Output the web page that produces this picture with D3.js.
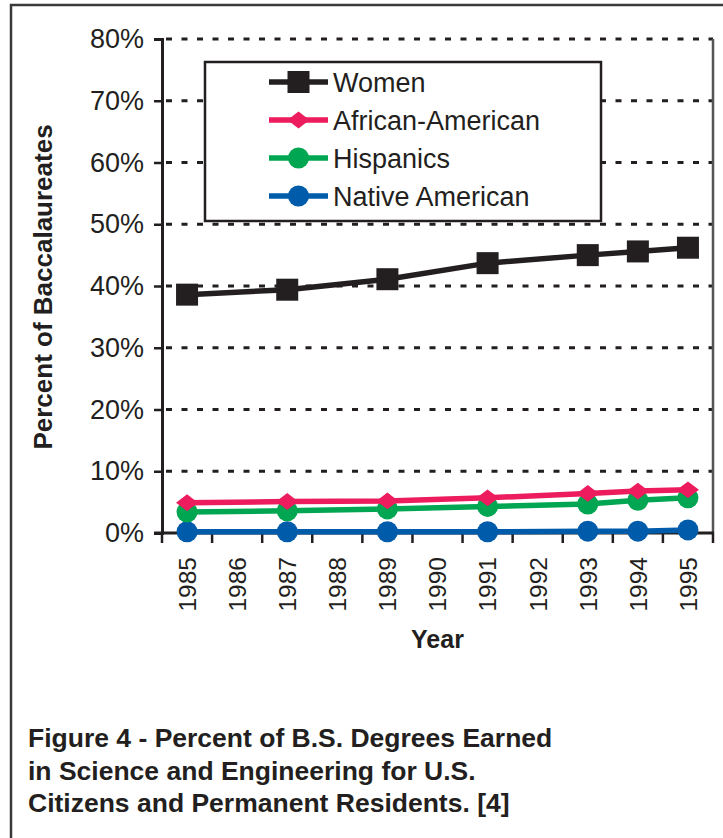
<!DOCTYPE html>
<html>
<head>
<meta charset="utf-8">
<script src="https://cdn.jsdelivr.net/npm/d3@7"></script>
<style>
  html, body { margin: 0; padding: 0; background: #fff; }
  svg { display: block; font-family: "Liberation Sans", Arial, sans-serif; }
</style>
</head>
<body>
<div id="chart"></div>
<script>
// axis categories (every year gets a tick)
var axisYears = ["1985", "1986", "1987", "1988", "1989", "1990", "1991", "1992", "1993", "1994", "1995"];
// years that actually have data
var dataYears = ["1985", "1987", "1989", "1991", "1993", "1994", "1995"];

var women = [38.6, 39.4, 41.1, 43.7, 45.0, 45.6, 46.2];
var africanAmerican = [4.9, 5.1, 5.2, 5.7, 6.4, 6.8, 7.0];
var hispanics = [3.4, 3.6, 3.9, 4.3, 4.7, 5.3, 5.7];
var nativeAmerican = [0.2, 0.2, 0.2, 0.2, 0.3, 0.3, 0.5];

var seriesNames = ["Women", "African-American", "Hispanics", "Native American"];
var seriesColors = ["#231f20", "#ec1c5e", "#00a651", "#005baa"];
var seriesShapes = ["square", "diamond", "circle", "circle"];

var yTicks = [0, 10, 20, 30, 40, 50, 60, 70, 80];

var captionLines = [
	"Figure 4 - Percent of B.S. Degrees Earned",
	"in Science and Engineering for U.S.",
	"Citizens and Permanent Residents. [4]"
];

var width = 723, height = 838;
var plot = { left: 162, right: 713, top: 39, bottom: 533 };

var svg = d3.select("#chart").append("svg")
		.attr("width", width).attr("height", height);

// outer frame (runs off the right and bottom edge)
svg.append("rect").attr("x", 11).attr("y", 5)
		.attr("width", 800).attr("height", 900)
		.attr("fill", "#fff").attr("stroke", "#3a3a3a").attr("stroke-width", 2.5);

var x = d3.scaleBand().domain(axisYears).range([plot.left, plot.right]);
var y = d3.scaleLinear().domain([0, 80]).range([plot.bottom, plot.top]);

// dotted gridlines (80% one doubles as the top border)
svg.append("g").selectAll("line").data(yTicks.filter(function(d) { return d > 0; }))
		.enter().append("line")
		.attr("x1", plot.left + 4).attr("x2", plot.right)
		.attr("y1", function(d) { return y(d); })
		.attr("y2", function(d) { return y(d); })
		.attr("stroke", "#231f20").attr("stroke-width", 3.2)
		.attr("stroke-dasharray", "6,9.5");

// right border
svg.append("line").attr("x1", plot.right).attr("x2", plot.right)
		.attr("y1", plot.top).attr("y2", plot.bottom)
		.attr("stroke", "#555").attr("stroke-width", 2.5);

// y axis
var yAxis = d3.axisLeft(y).tickValues(yTicks).tickSize(8).tickPadding(10)
		.tickFormat(function(d) { return d + "%"; });
var gy = svg.append("g").attr("transform", "translate(" + plot.left + ",0)").call(yAxis);
gy.select(".domain").attr("stroke", "#231f20").attr("stroke-width", 3);
gy.selectAll(".tick line").attr("stroke", "#231f20").attr("stroke-width", 2.5);
gy.selectAll(".tick text").attr("font-size", 27).attr("fill", "#231f20")
		.attr("font-family", "Liberation Sans, Arial, sans-serif");

// x axis: ticks sit between categories
var xAxisLine = svg.append("g");
xAxisLine.append("line").attr("x1", plot.left - 8).attr("x2", plot.right + 1)
		.attr("y1", plot.bottom).attr("y2", plot.bottom)
		.attr("stroke", "#231f20").attr("stroke-width", 3);
xAxisLine.selectAll(".xt").data(axisYears).enter().append("line")
		.attr("class", "xt")
		.attr("x1", function(d) { return x(d); })
		.attr("x2", function(d) { return x(d); })
		.attr("y1", plot.bottom).attr("y2", plot.bottom + 10)
		.attr("stroke", "#231f20").attr("stroke-width", 2.5);
xAxisLine.append("line").attr("x1", plot.right).attr("x2", plot.right)
		.attr("y1", plot.bottom).attr("y2", plot.bottom + 10)
		.attr("stroke", "#231f20").attr("stroke-width", 2.5);

xAxisLine.selectAll(".xl").data(axisYears).enter().append("text")
		.attr("class", "xl")
		.text(function(d) { return d; })
		.attr("transform", function(d) {
			return "translate(" + (x(d) + x.bandwidth() / 2) + "," + 557 + ") rotate(-90)";
		})
		.attr("text-anchor", "end").attr("dy", "0.36em")
		.attr("font-size", 24.5).attr("fill", "#231f20");

// axis titles
svg.append("text").text("Year")
		.attr("x", (plot.left + plot.right) / 2).attr("y", 648)
		.attr("text-anchor", "middle").attr("font-size", 25)
		.attr("font-weight", "bold").attr("fill", "#231f20");
svg.append("text").text("Percent of Baccalaureates")
		.attr("transform", "translate(52," + ((plot.top + plot.bottom) / 2 + 1) + ") rotate(-90)")
		.attr("text-anchor", "middle").attr("font-size", 26)
		.attr("font-weight", "bold").attr("fill", "#231f20");

function drawMarker(g, shape, cx, cy, color) {
	if (shape === "square") {
		g.append("rect").attr("x", cx - 11).attr("y", cy - 11)
				.attr("width", 22).attr("height", 22).attr("fill", color);
	} else if (shape === "diamond") {
		g.append("path")
				.attr("d", d3.symbol().type(d3.symbolDiamond2).size(280))
				.attr("transform", "translate(" + cx + "," + cy + ") scale(1.05,0.8)")
				.attr("fill", color);
	} else {
		g.append("circle").attr("cx", cx).attr("cy", cy).attr("r", 10.5).attr("fill", color);
	}
}

var allSeries = [women, africanAmerican, hispanics, nativeAmerican];
var line = d3.line()
		.x(function(d) { return x(d.year) + x.bandwidth() / 2; })
		.y(function(d) { return y(d.value); });

// draw bottom series first so Women ends on top
for (var s = allSeries.length - 1; s >= 0; s--) {
	var pts = dataYears.map(function(yr, i) { return { year: yr, value: allSeries[s][i] }; });
	var g = svg.append("g");
	g.append("path").datum(pts).attr("d", line)
			.attr("fill", "none").attr("stroke", seriesColors[s]).attr("stroke-width", 5.5);
	pts.forEach(function(p) {
		drawMarker(g, seriesShapes[s], x(p.year) + x.bandwidth() / 2, y(p.value), seriesColors[s]);
	});
}

// legend
var legend = svg.append("g");
legend.append("rect").attr("x", 205).attr("y", 62).attr("width", 396).attr("height", 159)
		.attr("fill", "#fff").attr("stroke", "#231f20").attr("stroke-width", 2.5);
var rowY = [82, 120, 158, 196];
seriesNames.forEach(function(name, i) {
	legend.append("line").attr("x1", 269).attr("x2", 328)
			.attr("y1", rowY[i]).attr("y2", rowY[i])
			.attr("stroke", seriesColors[i]).attr("stroke-width", 5.5);
	drawMarker(legend, seriesShapes[i], 298.5, rowY[i], seriesColors[i]);
	legend.append("text").text(name).attr("x", 333).attr("y", rowY[i])
			.attr("dy", "0.36em").attr("font-size", 27).attr("fill", "#231f20");
});

// caption
svg.append("g").selectAll("text").data(captionLines).enter().append("text")
		.text(function(d) { return d; })
		.attr("x", 28).attr("y", function(d, i) { return 747 + i * 32.6; })
		.attr("font-size", 26.5).attr("font-weight", "bold").attr("fill", "#231f20");
</script>
</body>
</html>
